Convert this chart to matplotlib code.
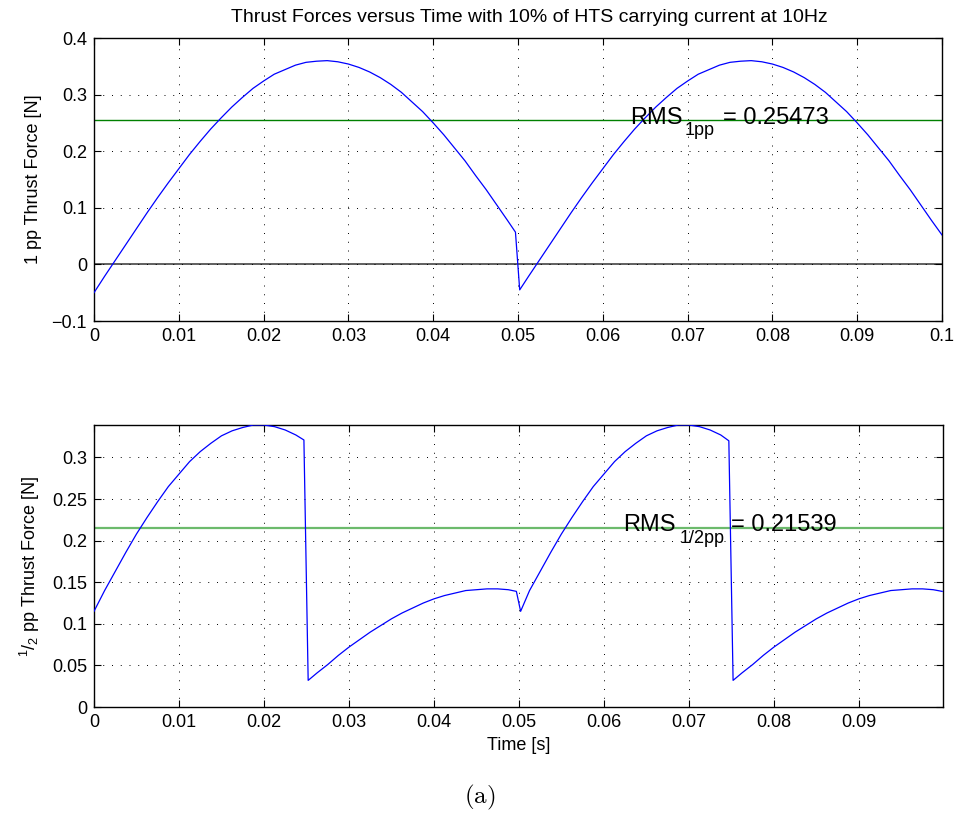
import numpy as np
import matplotlib
matplotlib.use("Agg")
import matplotlib.pyplot as plt
from matplotlib.ticker import FuncFormatter

plt.rcParams['font.family'] = ['Liberation Sans', 'DejaVu Sans']
plt.rcParams['mathtext.fontset'] = 'custom'
plt.rcParams['mathtext.rm'] = 'Liberation Sans'
plt.rcParams['mathtext.it'] = 'Liberation Sans'

# ---- data ----
# 1 pp thrust force, first and second half of the period
t_1pp_a = [0, 0.00125, 0.0025, 0.00375, 0.005, 0.00625, 0.0075, 0.00875, 0.01, 0.01125,
           0.0125, 0.01375, 0.015, 0.01625, 0.0175, 0.01875, 0.02, 0.02125, 0.0225, 0.02375,
           0.025, 0.02625, 0.0275, 0.02875, 0.03, 0.03125, 0.0325, 0.03375, 0.035, 0.03625,
           0.0375, 0.03875, 0.04, 0.04125, 0.0425, 0.04375, 0.045, 0.04625, 0.0475, 0.04875,
           0.0497]
f_1pp_a = [-0.050, -0.021, 0.007, 0.035, 0.063, 0.091, 0.118, 0.144, 0.169, 0.194,
           0.217, 0.239, 0.259, 0.278, 0.295, 0.311, 0.324, 0.336, 0.344, 0.352,
           0.357, 0.359, 0.360, 0.358, 0.354, 0.348, 0.340, 0.330, 0.318, 0.304,
           0.287, 0.270, 0.250, 0.229, 0.206, 0.183, 0.157, 0.132, 0.105, 0.078,
           0.057]
t_1pp_b = [0.0502, 0.05125, 0.0525, 0.05375, 0.055, 0.05625, 0.0575, 0.05875, 0.06, 0.06125,
           0.0625, 0.06375, 0.065, 0.06625, 0.0675, 0.06875, 0.07, 0.07125, 0.0725, 0.07375,
           0.075, 0.07625, 0.0775, 0.07875, 0.08, 0.08125, 0.0825, 0.08375, 0.085, 0.08625,
           0.0875, 0.08875, 0.09, 0.09125, 0.0925, 0.09375, 0.095, 0.09625, 0.0975, 0.09875,
           0.1]
f_1pp_b = [-0.045, -0.021, 0.007, 0.035, 0.063, 0.091, 0.118, 0.144, 0.169, 0.194,
           0.217, 0.239, 0.259, 0.278, 0.295, 0.311, 0.324, 0.336, 0.344, 0.352,
           0.357, 0.359, 0.360, 0.358, 0.354, 0.348, 0.340, 0.330, 0.318, 0.304,
           0.287, 0.270, 0.250, 0.229, 0.206, 0.183, 0.157, 0.132, 0.105, 0.078,
           0.052]
rms_1pp = 0.25473

# 1/2 pp thrust force, four segments
t_half_a = [0, 0.00125, 0.0025, 0.00375, 0.005, 0.00625, 0.0075, 0.00875, 0.01, 0.01125,
            0.0125, 0.01375, 0.015, 0.01625, 0.0175, 0.01875, 0.02, 0.02125, 0.0225, 0.02375,
            0.0247]
f_half_a = [0.115, 0.140, 0.163, 0.186, 0.208, 0.228, 0.247, 0.265, 0.280, 0.295,
            0.307, 0.317, 0.326, 0.332, 0.336, 0.339, 0.339, 0.337, 0.333, 0.327,
            0.321]
t_half_b = [0.0252, 0.02625, 0.0275, 0.02875, 0.03, 0.03125, 0.0325, 0.03375, 0.035, 0.03625,
            0.0375, 0.03875, 0.04, 0.04125, 0.0425, 0.04375, 0.045, 0.04625, 0.0475, 0.04875,
            0.0497]
f_half_b = [0.032, 0.041, 0.051, 0.062, 0.072, 0.081, 0.090, 0.098, 0.106, 0.113,
            0.119, 0.125, 0.130, 0.134, 0.137, 0.140, 0.141, 0.142, 0.142, 0.141,
            0.139]
t_half_c = [0.0502, 0.05125, 0.0525, 0.05375, 0.055, 0.05625, 0.0575, 0.05875, 0.06, 0.06125,
            0.0625, 0.06375, 0.065, 0.06625, 0.0675, 0.06875, 0.07, 0.07125, 0.0725, 0.07375,
            0.0747]
f_half_c = [0.115, 0.140, 0.163, 0.186, 0.208, 0.228, 0.247, 0.265, 0.280, 0.295,
            0.307, 0.317, 0.326, 0.332, 0.336, 0.339, 0.339, 0.337, 0.333, 0.327,
            0.320]
t_half_d = [0.0752, 0.07625, 0.0775, 0.07875, 0.08, 0.08125, 0.0825, 0.08375, 0.085, 0.08625,
            0.0875, 0.08875, 0.09, 0.09125, 0.0925, 0.09375, 0.095, 0.09625, 0.0975, 0.09875,
            0.0998]
f_half_d = [0.032, 0.041, 0.051, 0.062, 0.072, 0.081, 0.090, 0.098, 0.106, 0.113,
            0.119, 0.125, 0.130, 0.134, 0.137, 0.140, 0.141, 0.142, 0.142, 0.141,
            0.139]
rms_half = 0.21539

xticks_top = [0, 0.01, 0.02, 0.03, 0.04, 0.05, 0.06, 0.07, 0.08, 0.09, 0.1]
xticks_bot = [0, 0.01, 0.02, 0.03, 0.04, 0.05, 0.06, 0.07, 0.08, 0.09]
yticks_top = [-0.1, 0, 0.1, 0.2, 0.3, 0.4]
yticks_bot = [0, 0.05, 0.1, 0.15, 0.2, 0.25, 0.3]

t_1pp = t_1pp_a + t_1pp_b
f_1pp = f_1pp_a + f_1pp_b
t_half = t_half_a + t_half_b + t_half_c + t_half_d
f_half = f_half_a + f_half_b + f_half_c + f_half_d

W, H = 956, 814
fig = plt.figure(figsize=(W / 100, H / 100), dpi=100)
ax1 = fig.add_axes([94 / W, 1 - 321 / H, 848 / W, 283 / H])
ax2 = fig.add_axes([94 / W, 1 - 707 / H, 849 / W, 282 / H])

fmt = FuncFormatter(lambda v, p: ('%g' % round(v, 4)).replace('-', '\u2212'))


def style(ax, xt, yt):
    ax.set_xticks(xt)
    ax.set_yticks(yt)
    ax.xaxis.set_major_formatter(fmt)
    ax.yaxis.set_major_formatter(fmt)
    ax.tick_params(direction='in', length=5, width=0.8, top=True, right=True,
                   labelsize=13, pad=5)
    ax.grid(True, color='black', linestyle=(0, (1, 8)), linewidth=0.7)
    for s in ax.spines.values():
        s.set_linewidth(1.0)


# MATLAB style label: big "RMS", lowered subscript, then "= value"
def rms_label(ax, x, y, sub, value, dx_sub, dx_eq, dy):
    kw = dict(textcoords='offset pixels', va='baseline', ha='left', zorder=4)
    ax.annotate('RMS', (x, y), xytext=(0, dy), fontsize=17, **kw)
    ax.annotate(sub, (x, y), xytext=(dx_sub, -15), fontsize=13, **kw)
    ax.annotate('= ' + value, (x, y), xytext=(dx_eq, dy), fontsize=17, **kw)


# top panel
ax1.axhline(0, color='#444444', lw=1.2, zorder=1)
ax1.plot(t_1pp, f_1pp, color='blue', lw=0.9, zorder=3)
ax1.axhline(rms_1pp, color='#008000', lw=1.0, zorder=2)
ax1.set_xlim(0, 0.1)
ax1.set_ylim(-0.1, 0.4)
style(ax1, xticks_top, yticks_top)
ax1.set_ylabel('1 pp Thrust Force [N]', fontsize=13)
ax1.yaxis.set_label_coords(-0.061, 0.5)
rms_label(ax1, 0.0632, rms_1pp, '1pp', '0.25473', 55, 93, -4)

# bottom panel
ax2.plot(t_half, f_half, color='blue', lw=0.9, zorder=3)
ax2.axhline(rms_half, color='#6cba6c', lw=1.6, zorder=2)
ax2.set_xlim(0, 0.0999)
ax2.set_ylim(0, 0.339)
style(ax2, xticks_bot, yticks_bot)
ax2.set_ylabel(r'$^{1}/_{2}$ pp Thrust Force [N]', fontsize=13)
ax2.yaxis.set_label_coords(-0.061, 0.5)
ax2.set_xlabel('Time [s]', fontsize=13, labelpad=4)
rms_label(ax2, 0.0623, rms_half, '1/2pp', '0.21539', 56, 108, -3)

fig.text(529 / W, 1 - 17 / H, 'Thrust Forces versus Time with 10% of HTS carrying current at 10Hz',
         ha='center', va='center', fontsize=14)
fig.text(480 / W, 1 - 797 / H, r'$\mathrm{(a)}$', math_fontfamily='cm',
         ha='center', va='center', fontsize=18)

fig.savefig('out.png', dpi=100)
